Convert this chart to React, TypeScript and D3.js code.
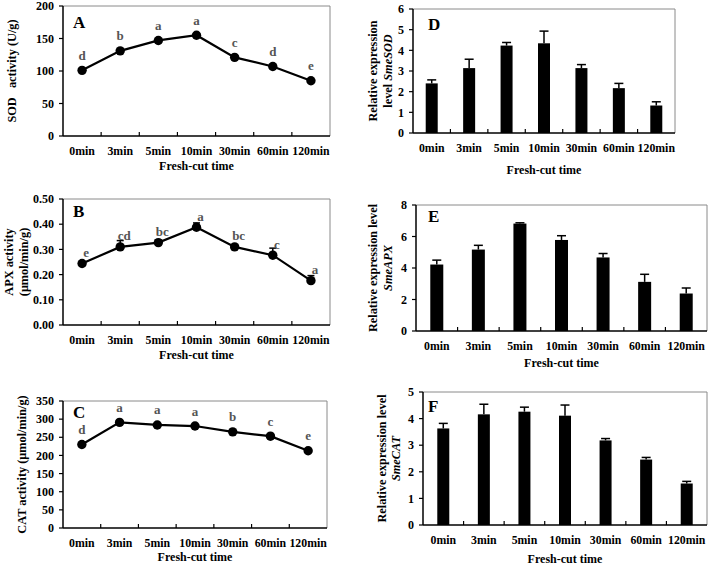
import React, { useRef, useEffect } from 'react';
import * as d3 from 'd3';

// x categories shared by all panels
const times = ["0min", "3min", "5min", "10min", "30min", "60min", "120min"];

// enzyme activities (line panels)
const sodActivity = [101, 131, 147, 155, 121, 107, 85];
const sodLetters = ["d", "b", "a", "a", "c", "d", "e"];
const sodTicks = [0, 50, 100, 150, 200];

const apxActivity = [0.244, 0.31, 0.327, 0.388, 0.31, 0.277, 0.176];
const apxError = [0, 0.025, 0.01, 0.017, 0.008, 0.028, 0.02];
const apxLetters = ["e", "cd", "bc", "a", "bc", "c", "a"];
const apxTicks = [0, 0.1, 0.2, 0.3, 0.4, 0.5];

const catActivity = [230, 291, 284, 281, 265, 253, 213];
const catLetters = ["d", "a", "a", "a", "b", "c", "e"];
const catTicks = [0, 50, 100, 150, 200, 250, 300, 350];

// relative expression (bar panels)
const smeSOD = [2.4, 3.14, 4.23, 4.34, 3.14, 2.17, 1.33];
const smeSODErr = [0.17, 0.43, 0.15, 0.59, 0.17, 0.23, 0.18];
const sodExprTicks = [0, 1, 2, 3, 4, 5, 6];

const smeAPX = [4.22, 5.17, 6.82, 5.78, 4.67, 3.12, 2.38];
const smeAPXErr = [0.28, 0.27, 0.05, 0.27, 0.25, 0.48, 0.35];
const apxExprTicks = [0, 2, 4, 6, 8];

const smeCAT = [3.63, 4.16, 4.26, 4.11, 3.18, 2.46, 1.56];
const smeCATErr = [0.19, 0.38, 0.17, 0.4, 0.07, 0.08, 0.08];
const catExprTicks = [0, 1, 2, 3, 4, 5];

const FONT = "'Liberation Serif', 'Times New Roman', serif";

type Seg = { text: string; italic?: boolean };

interface Panel {
  letter: string;
  box: { left: number; right: number; top: number; bottom: number };
  ticks: number[];
  fmt: (v: number) => string;
  titleLines: Seg[][];
  titleX: number[];
  letterPos: [number, number];
  xTitleY: number;
}

function drawAxes(svg: d3.Selection<SVGSVGElement, unknown, null, undefined>, p: Panel) {
  const { left, right, top, bottom } = p.box;
  const g = svg.append("g");
  const x = d3.scaleBand().domain(times).range([left, right]);
  const y = d3.scaleLinear().domain([0, d3.max(p.ticks) as number]).range([bottom, top]);

  // frame (top + right in grey)
  g.append("path")
    .attr("d", `M${left},${top}H${right}V${bottom}`)
    .attr("fill", "none").attr("stroke", "#8a8a8a").attr("stroke-width", 1);

  // y axis
  g.append("line").attr("x1", left).attr("x2", left).attr("y1", top).attr("y2", bottom)
    .attr("stroke", "#000").attr("stroke-width", 1.5);
  p.ticks.forEach(t => {
    g.append("line").attr("x1", left - 4).attr("x2", left).attr("y1", y(t)).attr("y2", y(t))
      .attr("stroke", "#000").attr("stroke-width", 1.2);
    g.append("text").attr("x", left - 9).attr("y", y(t)).attr("dy", "0.35em")
      .attr("text-anchor", "end").attr("font-size", 12).attr("font-weight", "bold")
      .attr("font-family", FONT).text(p.fmt(t));
  });

  // x axis
  g.append("line").attr("x1", left).attr("x2", right).attr("y1", bottom).attr("y2", bottom)
    .attr("stroke", "#000").attr("stroke-width", 1.5);
  times.forEach((t, i) => {
    if (i > 0) {
      const xx = x(t) as number;
      g.append("line").attr("x1", xx).attr("x2", xx).attr("y1", bottom).attr("y2", bottom - 4)
        .attr("stroke", "#000").attr("stroke-width", 1.2);
    }
    g.append("text").attr("x", (x(t) as number) + x.bandwidth() / 2).attr("y", bottom + 15)
      .attr("dy", "0.35em").attr("text-anchor", "middle").attr("font-size", 11.8)
      .attr("font-weight", "bold").attr("font-family", FONT).text(t);
  });

  g.append("text").attr("x", (left + right) / 2).attr("y", p.xTitleY).attr("dy", "0.35em")
    .attr("text-anchor", "middle").attr("font-size", 12).attr("font-weight", "bold")
    .attr("font-family", FONT).text("Fresh-cut time");

  // y title
  const cy = (top + bottom) / 2;
  p.titleLines.forEach((line, li) => {
    const tx = g.append("text")
      .attr("transform", `translate(${p.titleX[li]},${cy}) rotate(-90)`)
      .attr("dy", "0.35em").attr("text-anchor", "middle").attr("font-size", 12.3)
      .attr("font-weight", "bold").attr("font-family", FONT).attr("xml:space", "preserve");
    line.forEach(s => {
      tx.append("tspan").attr("font-style", s.italic ? "italic" : "normal").text(s.text);
    });
  });

  // panel letter
  g.append("text").attr("x", left + p.letterPos[0]).attr("y", top + p.letterPos[1])
    .attr("font-size", 17).attr("font-weight", "bold").attr("font-family", FONT).text(p.letter);

  return { g, x, y };
}

function drawLine(svg: any, p: Panel, values: number[], errs: number[] | null,
  letters: string[], ldx: number, ldy: number) {
  const { g, x, y } = drawAxes(svg, p);
  const cx = (i: number) => (x(times[i]) as number) + x.bandwidth() / 2;

  const line = d3.line<number>().x((_, i) => cx(i)).y(v => y(v));
  g.append("path").datum(values).attr("d", line).attr("fill", "none")
    .attr("stroke", "#000").attr("stroke-width", 2.2);

  if (errs) {
    values.forEach((v, i) => {
      if (errs[i] <= 0) return;
      const yt = y(v + errs[i]);
      g.append("line").attr("x1", cx(i)).attr("x2", cx(i)).attr("y1", y(v)).attr("y2", yt)
        .attr("stroke", "#000").attr("stroke-width", 1.5);
      g.append("line").attr("x1", cx(i) - 3.5).attr("x2", cx(i) + 3.5).attr("y1", yt).attr("y2", yt)
        .attr("stroke", "#000").attr("stroke-width", 1.5);
    });
  }

  g.selectAll(".dot").data(values).enter().append("circle")
    .attr("cx", (_, i) => cx(i)).attr("cy", v => y(v)).attr("r", 4.7).attr("fill", "#000");

  g.selectAll(".sig").data(values).enter().append("text")
    .attr("x", (_, i) => cx(i) + ldx).attr("y", v => y(v) + ldy).attr("dy", "0.35em")
    .attr("text-anchor", "middle").attr("font-size", 13).attr("font-weight", "bold")
    .attr("font-family", FONT).attr("fill", "#555").text((_, i) => letters[i]);
}

function drawBars(svg: any, p: Panel, values: number[], errs: number[], bw: number) {
  const { g, x, y } = drawAxes(svg, p);
  const cx = (i: number) => (x(times[i]) as number) + x.bandwidth() / 2;

  values.forEach((v, i) => {
    const yt = y(v + errs[i]);
    g.append("line").attr("x1", cx(i)).attr("x2", cx(i)).attr("y1", y(v)).attr("y2", yt)
      .attr("stroke", "#000").attr("stroke-width", 1.5);
    g.append("line").attr("x1", cx(i) - 4.5).attr("x2", cx(i) + 4.5).attr("y1", yt).attr("y2", yt)
      .attr("stroke", "#000").attr("stroke-width", 1.5);
  });

  g.selectAll(".bar").data(values).enter().append("rect")
    .attr("x", (_, i) => cx(i) - bw / 2).attr("y", v => y(v))
    .attr("width", bw).attr("height", v => p.box.bottom - y(v)).attr("fill", "#000");
}

const intFmt = (v: number) => d3.format("d")(v);
const fix2 = (v: number) => d3.format(".2f")(v);

const App: React.FC = () => {
  const svgRef = useRef<SVGSVGElement | null>(null);

  useEffect(() => {
    const svg = d3.select(svgRef.current as SVGSVGElement);
    svg.selectAll("*").remove();

    drawLine(svg, {
      letter: "A", box: { left: 63, right: 330, top: 6, bottom: 136 }, ticks: sodTicks, fmt: intFmt,
      titleLines: [[{ text: "SOD   activity (U/g)" }]], titleX: [12], letterPos: [10, 22], xTitleY: 166,
    }, sodActivity, null, sodLetters, 0, -15);

    drawLine(svg, {
      letter: "B", box: { left: 63, right: 330, top: 199, bottom: 325 }, ticks: apxTicks, fmt: fix2,
      titleLines: [[{ text: "APX activity" }], [{ text: "(μmol/min/g)" }]], titleX: [9, 24],
      letterPos: [10, 18], xTitleY: 355,
    }, apxActivity, apxError, apxLetters, 4, -11);

    drawLine(svg, {
      letter: "C", box: { left: 63, right: 327, top: 401, bottom: 528 }, ticks: catTicks, fmt: intFmt,
      titleLines: [[{ text: "CAT activity (μmol/min/g)" }]], titleX: [22], letterPos: [10, 17], xTitleY: 557,
    }, catActivity, null, catLetters, 0, -15);

    drawBars(svg, {
      letter: "D", box: { left: 413, right: 675, top: 9, bottom: 133 }, ticks: sodExprTicks, fmt: intFmt,
      titleLines: [[{ text: "Relative expression" }], [{ text: "level " }, { text: "SmeSOD", italic: true }]],
      titleX: [373, 388], letterPos: [15, 21], xTitleY: 170,
    }, smeSOD, smeSODErr, 12);

    drawBars(svg, {
      letter: "E", box: { left: 416, right: 707, top: 205, bottom: 331 }, ticks: apxExprTicks, fmt: intFmt,
      titleLines: [[{ text: "Relative expression level" }], [{ text: "SmeAPX", italic: true }]],
      titleX: [373, 388], letterPos: [12, 17], xTitleY: 363,
    }, smeAPX, smeAPXErr, 13);

    drawBars(svg, {
      letter: "F", box: { left: 423, right: 707, top: 392, bottom: 525 }, ticks: catExprTicks, fmt: intFmt,
      titleLines: [[{ text: "Relative expression level" }], [{ text: "SmeCAT", italic: true }]],
      titleX: [382, 396], letterPos: [5, 20], xTitleY: 559,
    }, smeCAT, smeCATErr, 12);
  }, []);

  return (
    <svg ref={svgRef} width={709} height={566}
      style={{ position: "absolute", left: 0, top: 0, background: "#fff" }} />
  );
};

export default App;
